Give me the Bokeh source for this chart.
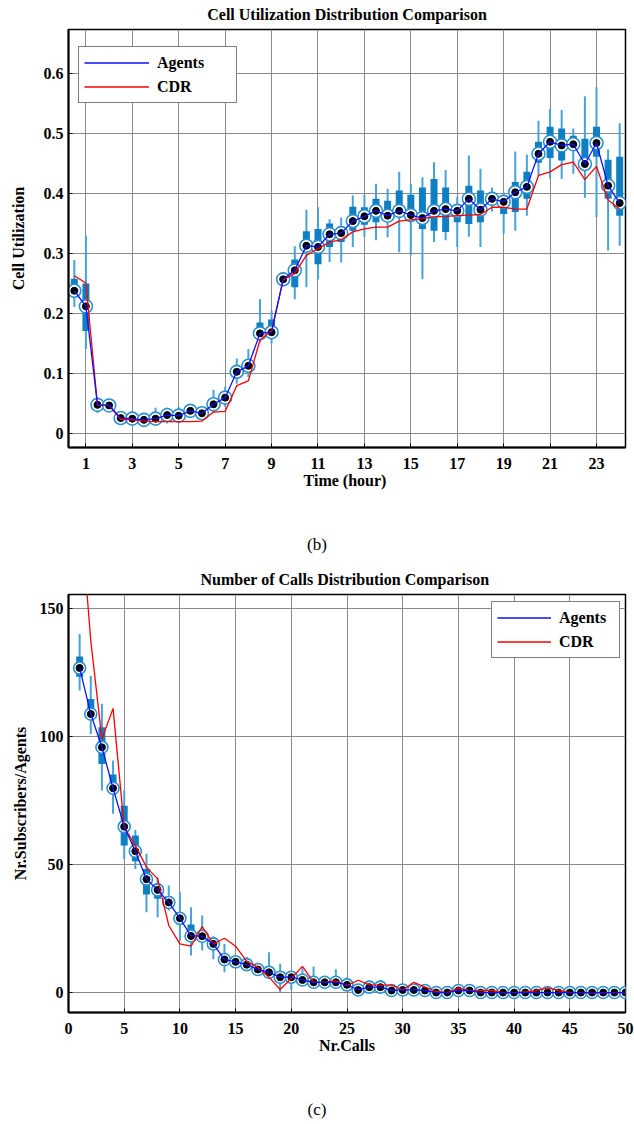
from bokeh.plotting import figure
from bokeh.layouts import column
from bokeh.models import Legend, LegendItem, FixedTicker, Range1d, Div
from bokeh.embed import file_html
from bokeh.resources import INLINE

# ---------------- data: cell utilization (b) ----------------
hours = [0.5, 1, 1.5, 2, 2.5, 3, 3.5, 4, 4.5, 5, 5.5, 6, 6.5, 7, 7.5, 8, 8.5, 9, 9.5, 10,
         10.5, 11, 11.5, 12, 12.5, 13, 13.5, 14, 14.5, 15, 15.5, 16, 16.5, 17, 17.5, 18,
         18.5, 19, 19.5, 20, 20.5, 21, 21.5, 22, 22.5, 23, 23.5, 24]
util_agents = [0.238, 0.212, 0.048, 0.047, 0.026, 0.025, 0.023, 0.025, 0.031, 0.030, 0.038, 0.034,
               0.049, 0.060, 0.103, 0.113, 0.167, 0.169, 0.257, 0.272, 0.313, 0.311, 0.332, 0.334,
               0.354, 0.362, 0.371, 0.363, 0.371, 0.364, 0.359, 0.371, 0.374, 0.371, 0.391, 0.373,
               0.391, 0.386, 0.402, 0.411, 0.466, 0.486, 0.480, 0.482, 0.449, 0.484, 0.413, 0.384]
util_cdr = [0.263, 0.251, 0.047, 0.047, 0.024, 0.023, 0.021, 0.020, 0.020, 0.020, 0.020, 0.021,
            0.036, 0.037, 0.080, 0.088, 0.156, 0.172, 0.256, 0.267, 0.297, 0.308, 0.319, 0.323,
            0.336, 0.341, 0.344, 0.344, 0.354, 0.356, 0.358, 0.361, 0.362, 0.363, 0.364, 0.365,
            0.377, 0.377, 0.374, 0.374, 0.430, 0.436, 0.448, 0.452, 0.423, 0.445, 0.389, 0.374]
util_q1 = [0.233, 0.171, 0.044, 0.045, 0.022, 0.022, 0.020, 0.022, 0.026, 0.026, 0.034, 0.030,
           0.044, 0.055, 0.097, 0.103, 0.161, 0.160, 0.254, 0.244, 0.302, 0.282, 0.311, 0.319,
           0.338, 0.348, 0.352, 0.355, 0.361, 0.361, 0.341, 0.338, 0.336, 0.352, 0.349, 0.352,
           0.383, 0.366, 0.369, 0.391, 0.451, 0.459, 0.455, 0.474, 0.444, 0.461, 0.391, 0.363]
util_q3 = [0.258, 0.250, 0.050, 0.049, 0.027, 0.027, 0.026, 0.030, 0.033, 0.032, 0.040, 0.037,
           0.053, 0.064, 0.108, 0.119, 0.185, 0.190, 0.265, 0.290, 0.337, 0.341, 0.350, 0.341,
           0.378, 0.377, 0.391, 0.388, 0.405, 0.398, 0.410, 0.424, 0.410, 0.382, 0.413, 0.405,
           0.399, 0.397, 0.419, 0.436, 0.486, 0.511, 0.508, 0.496, 0.491, 0.511, 0.456, 0.461]
util_lo = [0.211, 0.141, 0.035, 0.040, 0.015, 0.018, 0.015, 0.015, 0.017, 0.018, 0.030, 0.025,
           0.035, 0.045, 0.083, 0.094, 0.152, 0.150, 0.250, 0.224, 0.244, 0.257, 0.286, 0.285,
           0.311, 0.328, 0.322, 0.327, 0.302, 0.297, 0.257, 0.319, 0.322, 0.311, 0.328, 0.311,
           0.370, 0.333, 0.338, 0.363, 0.430, 0.425, 0.424, 0.433, 0.393, 0.361, 0.305, 0.313]
util_hi = [0.289, 0.330, 0.052, 0.058, 0.030, 0.030, 0.035, 0.043, 0.043, 0.045, 0.045, 0.045,
           0.073, 0.078, 0.125, 0.141, 0.224, 0.205, 0.269, 0.312, 0.373, 0.377, 0.357, 0.360,
           0.397, 0.397, 0.416, 0.408, 0.436, 0.416, 0.427, 0.452, 0.439, 0.394, 0.463, 0.441,
           0.410, 0.402, 0.470, 0.465, 0.521, 0.541, 0.539, 0.508, 0.562, 0.577, 0.473, 0.517]
hour_ticks = [1, 3, 5, 7, 9, 11, 13, 15, 17, 19, 21, 23]
util_ticks = [0, 0.1, 0.2, 0.3, 0.4, 0.5, 0.6]

# ---------------- data: number of calls (c) ----------------
calls = list(range(1, 51))
calls_agents = [126.8, 108.8, 95.8, 79.8, 64.8, 55.2, 44.3, 40.1, 35.2, 29.0,
                22.1, 22.0, 19.0, 12.9, 12.0, 10.9, 9.0, 7.9, 6.0, 6.0,
                4.9, 4.0, 4.0, 4.0, 3.0, 1.0, 2.1, 2.1, 0.8, 1.0,
                1.0, 0.8, 0.0, 0.0, 0.8, 0.8, 0.0, 0.0, 0.0, 0.0,
                0.0, 0.0, 0.0, 0.0, 0.0, 0.0, 0.0, 0.0, 0.0, 0.0]
calls_cdr = [192.0, 137.5, 99.0, 111.0, 64.6, 57.4, 49.0, 44.4, 26.2, 19.0,
             18.1, 25.8, 19.0, 21.2, 18.1, 12.2, 9.9, 6.0, 1.2, 5.5,
             10.2, 4.0, 4.0, 4.6, 2.7, 4.8, 3.0, 2.9, 2.9, 1.0,
             4.0, 2.1, 0.4, 0.0, 1.7, 0.8, 0.8, 0.8, 0.0, 0.0,
             0.2, 0.8, 1.8, 0.8, 0.0, 0.0, 0.0, 0.0, 0.0, 0.0]
calls_q1 = [123.4, 106.9, 89.3, 77.6, 57.4, 51.3, 38.3, 36.6, 34.2, 26.6,
            20.3, 21.0, 16.8, 11.5, 11.0, 10.0, 8.0, 7.3, 5.0, 5.0,
            4.0, 2.7, 3.5, 3.0, 2.0, 0.5, 1.0, 1.5, 0.3, 0.5,
            0.5, 0.3, 0.0, 0.0, 0.3, 0.3, 0.0, 0.0, 0.0, 0.0,
            0.0, 0.0, 0.0, 0.0, 0.0, 0.0, 0.0, 0.0, 0.0, 0.0]
calls_q3 = [131.3, 114.7, 103.6, 85.2, 73.0, 61.3, 48.3, 42.5, 37.5, 31.0,
            26.6, 24.0, 20.6, 14.0, 13.0, 12.0, 10.0, 10.3, 7.0, 7.0,
            6.0, 6.0, 5.0, 5.0, 4.0, 1.5, 3.0, 3.0, 1.3, 1.5,
            1.5, 1.3, 0.5, 0.5, 1.3, 1.3, 0.5, 0.5, 0.5, 0.5,
            0.5, 0.5, 0.5, 0.5, 0.5, 0.5, 0.5, 0.5, 0.5, 0.5]
calls_lo = [118.0, 101.0, 78.9, 69.8, 52.2, 48.3, 31.4, 29.4, 32.0, 20.3,
            14.5, 16.4, 13.0, 7.9, 10.5, 9.0, 7.0, 6.0, 0.1, 1.0,
            3.0, 2.0, 3.0, 2.1, 1.0, 0.0, 0.5, 1.0, 0.0, 0.0,
            0.0, 0.0, 0.0, 0.0, 0.0, 0.0, 0.0, 0.0, 0.0, 0.0,
            0.0, 0.0, 0.0, 0.0, 0.0, 0.0, 0.0, 0.0, 0.0, 0.0]
calls_hi = [140.1, 123.8, 112.8, 90.6, 78.9, 63.5, 54.2, 45.0, 41.8, 39.2,
            33.3, 30.1, 22.0, 19.0, 13.5, 14.0, 11.0, 15.7, 11.2, 7.5,
            9.5, 10.2, 5.5, 9.1, 6.0, 3.0, 3.5, 5.0, 1.8, 2.0,
            2.0, 1.8, 1.0, 1.0, 1.8, 1.8, 1.0, 1.0, 1.0, 1.0,
            1.0, 1.0, 1.0, 1.0, 1.0, 1.0, 1.0, 1.0, 1.0, 1.0]
calls_ticks = [0, 5, 10, 15, 20, 25, 30, 35, 40, 45, 50]
count_ticks = [0, 50, 100, 150]

FONT = "Liberation Serif"
BOX_C = "#0f7fc3"
WHISK_C = "#48a2da"
RING_C = "#2b8fd1"


def make_panel(title, xlab, ylab, x_range, y_range, xticks, yticks,
               height, min_top, min_bottom, ylab_standoff):
    p = figure(width=634, height=height, x_range=Range1d(*x_range), y_range=Range1d(*y_range),
               output_backend="svg", toolbar_location=None,
               min_border_left=68, min_border_right=9,
               min_border_top=min_top, min_border_bottom=min_bottom)
    p.title.text = title
    p.title.align = "center"
    p.title.vertical_align = "top"
    p.title.text_font = FONT
    p.title.text_font_style = "bold"
    p.title.text_font_size = "16px"
    p.title.text_color = "black"
    p.title.standoff = 10
    p.outline_line_color = "black"
    p.outline_line_width = 1.5
    p.background_fill_color = "white"
    p.border_fill_color = "white"
    for ax in (p.xaxis[0], p.yaxis[0]):
        ax.axis_line_color = "black"
        ax.axis_line_width = 2
        ax.major_tick_in = 4
        ax.major_tick_out = 0
        ax.minor_tick_line_color = None
        ax.major_tick_line_color = "black"
        ax.major_label_text_font = FONT
        ax.major_label_text_font_style = "bold"
        ax.major_label_text_font_size = "16px"
        ax.major_label_text_color = "black"
        ax.axis_label_text_font = FONT
        ax.axis_label_text_font_style = "bold"
        ax.axis_label_text_font_size = "16px"
        ax.axis_label_text_color = "black"
    p.xaxis.ticker = FixedTicker(ticks=xticks)
    p.yaxis.ticker = FixedTicker(ticks=yticks)
    p.xaxis.axis_label = xlab
    p.yaxis.axis_label = ylab
    p.xaxis.major_label_standoff = 10
    p.yaxis.major_label_standoff = 5
    p.xaxis.axis_label_standoff = 0
    p.yaxis.axis_label_standoff = ylab_standoff
    p.grid.grid_line_color = "#8a8a8a"
    p.grid.grid_line_width = 1
    return p


def draw(p, x, med, cdr, q1, q3, lo, hi, ring_size, dot_size):
    p.segment(x0=x, y0=lo, x1=x, y1=hi, line_color=WHISK_C, line_width=2)
    p.segment(x0=x, y0=q1, x1=x, y1=q3, line_color=BOX_C, line_width=7)
    p.scatter(x=x, y=med, size=ring_size, marker="circle", fill_color="white",
              line_color=RING_C, line_width=1.6)
    p.scatter(x=x, y=med, size=dot_size, marker="circle", fill_color="black", line_color="black")
    r_cdr = p.multi_line(xs=[x], ys=[cdr], line_color="#ff0000", line_width=1.3)
    r_ag = p.multi_line(xs=[x], ys=[med], line_color="#1010ff", line_width=1.3)
    return r_ag, r_cdr


def add_legend(p, r_ag, r_cdr, loc, glyph_w, label_w):
    leg = Legend(items=[LegendItem(label="Agents", renderers=[r_ag], index=0),
                        LegendItem(label="CDR", renderers=[r_cdr], index=0)],
                 location=loc, glyph_width=glyph_w, glyph_height=21, label_height=21,
                 label_width=label_w, spacing=3, padding=5, label_standoff=8, margin=0,
                 label_text_font=FONT, label_text_font_style="bold",
                 label_text_font_size="16px", label_text_color="black",
                 border_line_color="black", border_line_width=1.5,
                 background_fill_color="white", background_fill_alpha=1)
    p.add_layout(leg)


def caption(text, height):
    html = ("<div style=\"font-family:'Liberation Serif',serif;font-size:17px;color:black;"
            "text-align:center;width:600px;padding-left:34px;line-height:20px;"
            "padding-top:33px;\">%s</div>" % text)
    return Div(text=html, width=634, height=height, margin=0)


p1 = make_panel("Cell Utilization Distribution Comparison", "Time  (hour)",
                "Cell Utilization", (0.25, 24.25), (-0.023, 0.673), hour_ticks, util_ticks,
                502, 29, 55, 14)
a1, c1 = draw(p1, hours, util_agents, util_cdr, util_q1, util_q3, util_lo, util_hi, 13, 7)
add_legend(p1, a1, c1, (10, 344), 65, 74)

p2 = make_panel("Number of Calls  Distribution Comparison", "Nr.Calls",
                "Nr.Subscribers/Agents", (0, 50), (-7.8, 155.5), calls_ticks, count_ticks,
                505, 32, 55, 8)
a2, c2 = draw(p2, calls, calls_agents, calls_cdr, calls_q1, calls_q3, calls_lo, calls_hi, 12, 7)
add_legend(p2, a2, c2, (423, 354), 54, 55)

layout = column(p1, caption("(b)", 60), p2, caption("(c)", 57), spacing=0)
open("out.html", "w").write(file_html(layout, INLINE))
